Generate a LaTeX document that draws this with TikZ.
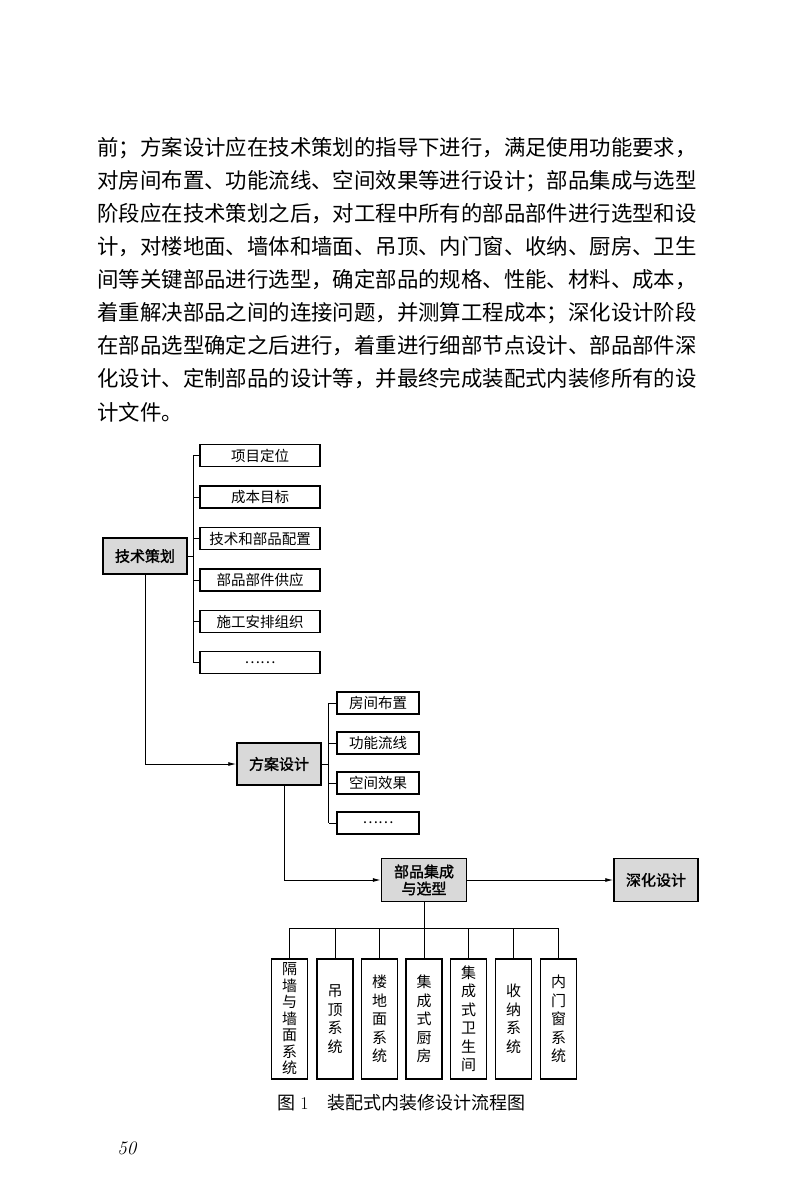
\documentclass[tikz,border=0pt]{standalone}
\usepackage{fontspec}
\usepackage{tikz}
\usetikzlibrary{arrows.meta,positioning}
\newfontfamily\cjk{Noto Sans CJK SC}
\newfontfamily\cjkb[FakeBold=1.6]{Noto Sans CJK SC}

\begin{document}
\begin{tikzpicture}[x=1pt,y=-1pt,line width=0.9pt,
    stage/.style={draw,line width=1.5pt,fill=black!15,minimum width=84pt,minimum height=36pt,inner sep=0pt,align=center,font=\cjkb\fontsize{15}{17}\selectfont},
    item/.style={draw,line width=1.3pt,minimum height=22pt,inner sep=0pt,font=\cjk\fontsize{14.5}{17}\selectfont},
    part/.style={draw,line width=1.4pt,minimum width=36pt,minimum height=120pt,inner sep=0pt,align=center,text width=16pt,font=\cjk\fontsize{15}{18.5}\selectfont},
    body/.style={anchor=west,inner sep=0pt,font=\cjk\fontsize{21.4}{26}\selectfont},
    arr/.style={-{Latex[length=8pt,width=4pt]}}]
    \fill[white] (0,0) rectangle (800,1200);
    \useasboundingbox (0,0) rectangle (800,1200);

    % body text
    \node[body] (l1) at (97,148) {前；方案设计应在技术策划的指导下进行，满足使用功能要求，};
    \node[body] (l2) at (97,181) {对房间布置、功能流线、空间效果等进行设计；部品集成与选型};
    \node[body] (l3) at (97,214) {阶段应在技术策划之后，对工程中所有的部品部件进行选型和设};
    \node[body] (l4) at (97,247) {计，对楼地面、墙体和墙面、吊顶、内门窗、收纳、厨房、卫生};
    \node[body] (l5) at (97,280) {间等关键部品进行选型，确定部品的规格、性能、材料、成本，};
    \node[body] (l6) at (97,313) {着重解决部品之间的连接问题，并测算工程成本；深化设计阶段};
    \node[body] (l7) at (97,346) {在部品选型确定之后进行，着重进行细部节点设计、部品部件深};
    \node[body] (l8) at (97,379) {化设计、定制部品的设计等，并最终完成装配式内装修所有的设};
    \node[body] (l9) at (97,412) {计文件。};

    % stages
    \node[stage] (plan) at (145,556) {技术策划};
    \node[stage,minimum height=42pt] (scheme) at (279,764) {方案设计};
    \node[stage,minimum width=85pt,minimum height=43pt] (sel) at (424,880) {部品集成\\与选型};
    \node[stage,minimum height=43pt] (deep) at (656,880) {深化设计};

    % technical planning items
    \node[item,minimum width=120pt] (t1) at (260,455.5) {项目定位};
    \node[item,minimum width=120pt] (t2) at (260,497) {成本目标};
    \node[item,minimum width=120pt] (t3) at (260,538.5) {技术和部品配置};
    \node[item,minimum width=120pt] (t4) at (260,580) {部品部件供应};
    \node[item,minimum width=120pt] (t5) at (260,621.5) {施工安排组织};
    \node[item,minimum width=120pt] (t6) at (260,662.5) {……};
    \draw ([xshift=-6pt]t1.west) -- ([xshift=-6pt]t6.west);
    \draw (plan.east) -- ([xshift=-6pt]t1.west |- plan.east);
    \foreach \n in {1,...,6} \draw (t\n.west) -- ++(-6pt,0);

    % scheme items
    \node[item,minimum width=82pt] (s1) at (378,703) {房间布置};
    \node[item,minimum width=82pt] (s2) at (378,743) {功能流线};
    \node[item,minimum width=82pt] (s3) at (378,783) {空间效果};
    \node[item,minimum width=82pt] (s4) at (378,823) {……};
    \draw ([xshift=-7.5pt]s1.west) -- ([xshift=-7.5pt]s4.west);
    \draw (scheme.east) -- ([xshift=-7.5pt]s1.west |- scheme.east);
    \foreach \n in {1,...,4} \draw (s\n.west) -- ++(-7.5pt,0);

    % flow
    \draw[arr] (plan.south) |- (scheme.west);
    \draw[arr] ([xshift=5pt]scheme.south) |- (sel.west);
    \draw[arr] (sel.east) -- (deep.west);

    % parts
    \node[part,font=\cjk\fontsize{15}{16.5}\selectfont] (b1) at (289.5,1019) {隔\\墙\\与\\墙\\面\\系\\统};
    \node[part] (b2) at (335,1019) {吊\\顶\\系\\统};
    \node[part] (b3) at (379.5,1019) {楼\\地\\面\\系\\统};
    \node[part] (b4) at (424,1019) {集\\成\\式\\厨\\房};
    \node[part] (b5) at (468.5,1019) {集\\成\\式\\卫\\生\\间};
    \node[part] (b6) at (513.5,1019) {收\\纳\\系\\统};
    \node[part] (b7) at (558.5,1019) {内\\门\\窗\\系\\统};
    \coordinate (bus) at (424,928);
    \draw (sel.south) -- (b4.north);
    \draw (b1.north |- bus) -- (b7.north |- bus);
    \foreach \n in {1,2,3,5,6,7} \draw (b\n.north) -- (b\n.north |- bus);

    % caption and page number
    \node[anchor=west,inner sep=0pt,font=\fontsize{18}{20}\selectfont] (cap) at (277,1103) {{\cjk 图}\hspace{5pt}1\hspace{18.5pt}{\cjk 装配式内装修设计流程图}};
    \node[anchor=west,inner sep=0pt,font=\fontsize{19}{22}\selectfont\itshape] (pg) at (117,1148) {50};
\end{tikzpicture}
\end{document}
